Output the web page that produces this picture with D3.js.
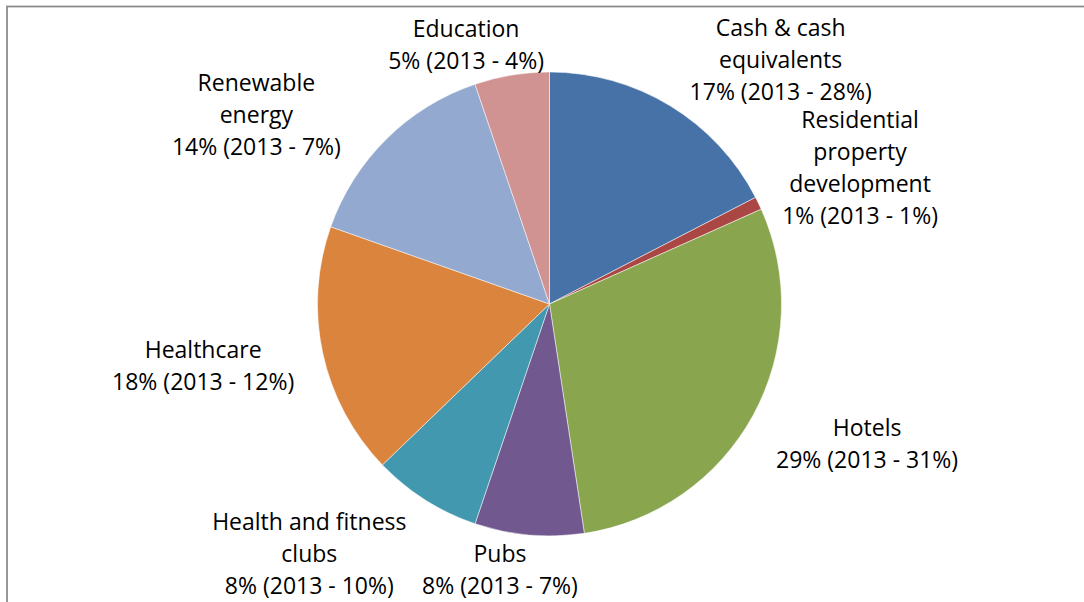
<!DOCTYPE html>
<html>
<head>
<meta charset="utf-8">
<script src="https://cdn.jsdelivr.net/npm/d3@7"></script>
<style>
  html, body { margin: 0; padding: 0; background: #fff; }
  svg text { font-family: "Open Sans", sans-serif; font-size: 23px; fill: #000; }
</style>
</head>
<body>
<div class="canvas"></div>
<script>
// data (share of portfolio, %)
const categories = [
  "Cash & cash\nequivalents",
  "Residential\nproperty\ndevelopment",
  "Hotels",
  "Pubs",
  "Health and fitness\nclubs",
  "Healthcare",
  "Renewable\nenergy",
  "Education"
];
const share2014 = [17.4, 0.9, 29.3, 7.6, 7.6, 17.6, 14.4, 5.2];
const share2013 = [28, 1, 31, 7, 10, 12, 7, 4];
const colours = ["#4672A7", "#AA4643", "#89A54E", "#71588F", "#4198AF", "#DB843D", "#93A9CF", "#D19392"];

const width = 1084, height = 602;
const cx = 549.5, cy = 304, radius = 232;
const lineHeight = 32;
const labelGap = 8;
// small hand tweaks so labels sit where Excel's "best fit" put them
const labelNudge = [[63.5, 31], [7, 9.5], [23.5, -21], [-25.5, -7.5], [-65.5, -26.5], [-18.5, -10], [-59.5, 47], [-38.5, 12]];

const data = categories.map((c, i) => ({ name: c, value: share2014[i], prev: share2013[i], i }));

const svg = d3.select('.canvas').append('svg')
    .attr('width', width)
    .attr('height', height);

// chart border (cut off by the window at right and bottom)
svg.append('rect')
    .attr('x', 7).attr('y', 6.5)
    .attr('width', width + 20).attr('height', height + 20)
    .attr('fill', 'none')
    .attr('stroke', '#898989')
    .attr('stroke-width', 1.75);

const graph = svg.append('g')
    .attr('transform', `translate(${cx}, ${cy})`);

const pie = d3.pie().sort(null).value(d => d.value);
const arc = d3.arc().innerRadius(0).outerRadius(radius);
const arcs = pie(data);

graph.selectAll('path.slice')
    .data(arcs)
    .enter().append('path')
    .attr('class', 'slice')
    .attr('d', arc)
    .attr('fill', d => colours[d.data.i])
    .attr('stroke', '#fff')
    .attr('stroke-width', 0.5);

// labels
const labels = graph.selectAll('text.label')
    .data(arcs)
    .enter().append('text')
    .attr('class', 'label')
    .attr('text-anchor', 'middle');

labels.each(function(d) {
  const lines = d.data.name.split('\n').concat([`${Math.round(d.data.value)}% (2013 - ${d.data.prev}%)`]);
  const t = d3.select(this);
  lines.forEach((l, k) => {
    t.append('tspan').attr('x', 0).attr('dy', k === 0 ? 0 : lineHeight).text(l);
  });
});

// push each label block out along its mid-angle until it clears the pie
labels.each(function(d) {
  const t = d3.select(this);
  const bb = this.getBBox();
  const hw = bb.width / 2, hh = bb.height / 2;
  const offY = bb.y + hh; // bbox centre relative to the text origin
  const mid = (d.startAngle + d.endAngle) / 2;
  const dx = Math.sin(mid), dy = -Math.cos(mid);
  let dist = 0;
  for (let s = radius * 0.5; s < radius * 2.5; s += 0.5) {
    const px = dx * s, py = dy * s;
    const nx = Math.max(px - hw, Math.min(0, px + hw));
    const ny = Math.max(py - hh, Math.min(0, py + hh));
    if (Math.hypot(nx, ny) >= radius + labelGap) { dist = s; break; }
  }
  const n = labelNudge[d.data.i];
  const x = dx * dist + n[0], y = dy * dist - offY + n[1];
  t.attr('transform', `translate(${x}, ${y})`);
});
</script>
</body>
</html>
